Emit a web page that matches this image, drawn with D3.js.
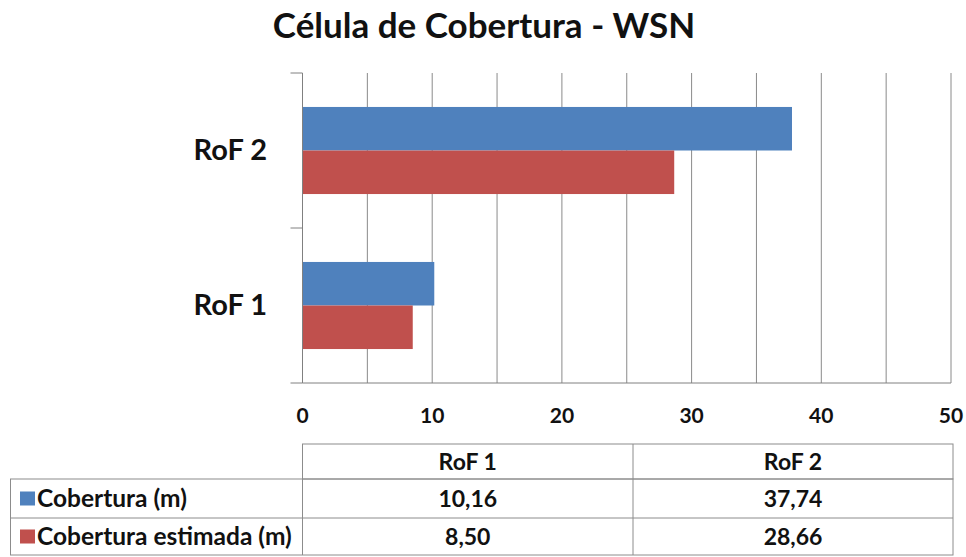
<!DOCTYPE html>
<html>
<head>
<meta charset="utf-8">
<script src="https://cdn.jsdelivr.net/npm/d3@7"></script>
<style>
  html, body { margin: 0; padding: 0; background: #fff; }
  svg { display: block; font-family: Lato, "Open Sans", sans-serif; }
</style>
</head>
<body>
<svg id="chart" width="966" height="557"></svg>
<script>
// Coverage per RoF unit (metres)
const categories = ["RoF 1", "RoF 2"];
const seriesNames = ["Cobertura (m)", "Cobertura estimada (m)"];
const cobertura = [10.16, 37.74];
const coberturaEstimada = [8.50, 28.66];
const valueLabels = [["10,16", "37,74"], ["8,50", "28,66"]];
const xTicks = [0, 10, 20, 30, 40, 50];
const colors = ["#4F81BD", "#C0504D"];

const svg = d3.select("#chart");
const plot = { left: 302.5, right: 951, top: 73, bottom: 383 };

svg.append("text")
  .attr("x", 484).attr("y", 38)
  .attr("text-anchor", "middle")
  .attr("font-size", 35).attr("font-weight", "bold").attr("fill", "#111")
  .text("Célula de Cobertura - WSN");

const x = d3.scaleLinear().domain([0, 50]).range([plot.left, plot.right]);
// RoF 2 on top, RoF 1 below
const y = d3.scaleBand().domain(["RoF 2", "RoF 1"]).range([plot.top, plot.bottom]).paddingInner(0).paddingOuter(0);
const inner = d3.scaleBand().domain([0, 1]).range([0, y.bandwidth()]).paddingInner(0).paddingOuter(0.78);

// vertical gridlines every 5 units
const gridVals = d3.range(5, 55, 5);
svg.append("g").selectAll("line").data(gridVals).join("line")
  .attr("x1", d => x(d)).attr("x2", d => x(d))
  .attr("y1", plot.top).attr("y2", plot.bottom)
  .attr("stroke", "#8a8a8a").attr("stroke-width", 1);

// bars
const series = [cobertura, coberturaEstimada];
series.forEach((vals, si) => {
  svg.append("g").selectAll("rect").data(categories).join("rect")
    .attr("x", x(0))
    .attr("y", (c) => y(c) + inner(si))
    .attr("width", (c, i) => x(vals[i]) - x(0))
    .attr("height", inner.bandwidth())
    .attr("fill", colors[si]);
});

// value axis (bottom)
const xAxis = svg.append("g")
  .attr("transform", `translate(0,${plot.bottom})`)
  .call(d3.axisBottom(x).tickValues(d3.range(0, 55, 5)).tickSize(0).tickFormat(""));
xAxis.select(".domain").attr("stroke", "#808080").attr("d", `M${plot.left},0H${plot.right}`);

svg.append("g").selectAll("text").data(xTicks).join("text")
  .attr("x", d => x(d)).attr("y", 423)
  .attr("text-anchor", "middle")
  .attr("font-size", 21).attr("font-weight", "bold").attr("fill", "#111")
  .text(d => d);

// category axis (left)
const yAxis = svg.append("g")
  .attr("transform", `translate(${plot.left},0)`)
  .call(d3.axisLeft(y).tickSize(0).tickFormat(""));
yAxis.select(".domain").attr("stroke", "#808080").attr("d", `M0,${plot.top}V${plot.bottom}`);
const bounds = [plot.top, plot.top + y.bandwidth(), plot.bottom];
svg.append("g").selectAll("line").data(bounds).join("line")
  .attr("x1", plot.left - 12).attr("x2", plot.left)
  .attr("y1", d => d).attr("y2", d => d)
  .attr("stroke", "#808080");

svg.append("g").selectAll("text").data(categories).join("text")
  .attr("x", 267).attr("y", c => y(c) + y.bandwidth() / 2 + 9)
  .attr("text-anchor", "end")
  .attr("font-size", 29).attr("font-weight", "bold").attr("fill", "#111")
  .text(c => c);

// data table
const tbl = { left: 10.5, colStart: 302.5, colMid: 633, right: 953, rows: [444, 479, 518, 555] };
const colCenters = [(tbl.colStart + tbl.colMid) / 2, (tbl.colMid + tbl.right) / 2];
const tg = svg.append("g").attr("stroke", "#8c8c8c").attr("stroke-width", 1);
tg.append("rect").attr("x", tbl.colStart).attr("y", tbl.rows[0])
  .attr("width", tbl.right - tbl.colStart).attr("height", tbl.rows[1] - tbl.rows[0]).attr("fill", "none");
tg.append("rect").attr("x", tbl.left).attr("y", tbl.rows[1])
  .attr("width", tbl.right - tbl.left).attr("height", tbl.rows[3] - tbl.rows[1]).attr("fill", "none");
tg.append("line").attr("x1", tbl.left).attr("x2", tbl.right).attr("y1", tbl.rows[2]).attr("y2", tbl.rows[2]);
tg.append("line").attr("x1", tbl.colStart).attr("x2", tbl.colStart).attr("y1", tbl.rows[0]).attr("y2", tbl.rows[3]);
tg.append("line").attr("x1", tbl.colMid).attr("x2", tbl.colMid).attr("y1", tbl.rows[0]).attr("y2", tbl.rows[3]);

svg.append("g").selectAll("text").data(categories).join("text")
  .attr("x", (c, i) => colCenters[i]).attr("y", 470)
  .attr("text-anchor", "middle").attr("font-size", 23).attr("font-weight", "bold").attr("fill", "#111")
  .text(c => c);

seriesNames.forEach((name, si) => {
  const rowMid = (tbl.rows[si + 1] + tbl.rows[si + 2]) / 2;
  svg.append("rect").attr("x", 20).attr("y", rowMid - 7).attr("width", 15).attr("height", 14).attr("fill", colors[si]);
  svg.append("text").attr("x", 37).attr("y", rowMid + 8)
    .attr("font-size", 24.5).attr("font-weight", "bold").attr("fill", "#111").text(name);
  svg.append("g").selectAll("text").data(valueLabels[si]).join("text")
    .attr("x", (d, i) => colCenters[i]).attr("y", rowMid + 8)
    .attr("text-anchor", "middle").attr("font-size", 23).attr("font-weight", "bold").attr("fill", "#111")
    .text(d => d);
});
</script>
</body>
</html>
